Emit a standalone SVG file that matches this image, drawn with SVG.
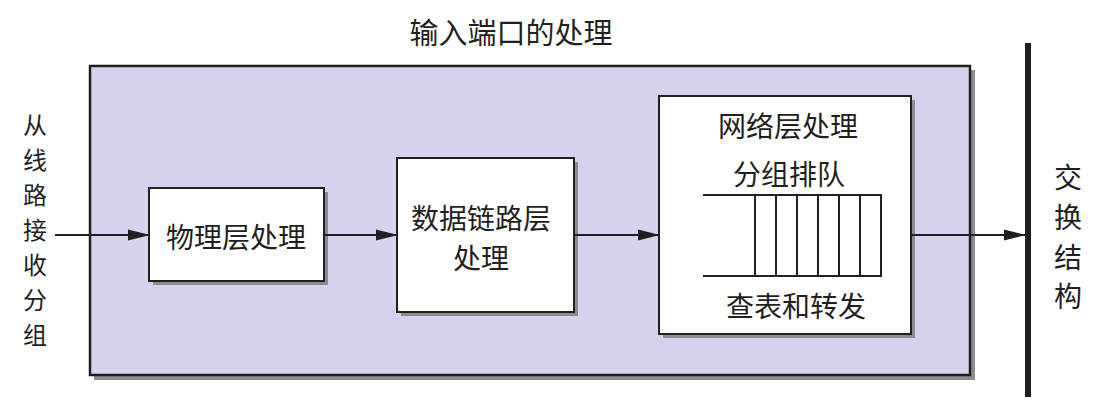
<svg xmlns="http://www.w3.org/2000/svg" width="1108" height="413" viewBox="0 0 1108 413">
<defs>
<style>
.t{font-family:"Noto Sans CJK SC","Noto Sans",sans-serif;font-size:28px;fill:#231f20;text-anchor:middle}
.s{font-size:24px}
.sh{fill:#8c8c8c}
.box{fill:#fff;stroke:#231f20;stroke-width:2}
.ln{stroke:#231f20;stroke-width:2;fill:none}
</style>
<marker id="ah" markerWidth="22" markerHeight="12" refX="21" refY="6" orient="auto" markerUnits="userSpaceOnUse">
<path d="M0,0.5 L22,6 L0,11.5 Z" fill="#231f20"/>
</marker>
</defs>
<rect width="1108" height="413" fill="#fff"/>
<text class="t" x="511" y="44" style="font-size:29px">输入端口的处理</text>
<g id="outer">
<rect class="sh" x="94" y="70" width="881" height="310"/>
<rect x="90" y="66" width="880" height="309" fill="#d6d2ee" stroke="#231f20" stroke-width="2.5"/>
</g>
<g id="input-label">
<text class="t s" x="35" y="134">从</text>
<text class="t s" x="35" y="169">线</text>
<text class="t s" x="35" y="204">路</text>
<text class="t s" x="35" y="239">接</text>
<text class="t s" x="35" y="274">收</text>
<text class="t s" x="35" y="309">分</text>
<text class="t s" x="35" y="344">组</text>
</g>
<g id="physical">
<rect class="sh" x="153" y="192" width="175" height="93"/>
<rect class="box" x="149" y="188" width="175" height="93"/>
<text class="t" x="236" y="248">物理层处理</text>
</g>
<g id="datalink">
<rect class="sh" x="401" y="162" width="177" height="154"/>
<rect class="box" x="397" y="158" width="177" height="154"/>
<text class="t" x="481" y="229">数据链路层</text>
<text class="t" x="481" y="269">处理</text>
</g>
<g id="network">
<rect class="sh" x="663" y="100" width="252" height="238"/>
<rect class="box" x="659" y="96" width="252" height="238"/>
<text class="t" x="788" y="137">网络层处理</text>
<text class="t" x="789" y="185">分组排队</text>
<g class="ln">
<path d="M703,195 H881 V276 H703"/>
<path d="M755,195 V276 M776,195 V276 M797,195 V276 M818,195 V276 M839,195 V276 M860,195 V276"/>
</g>
<text class="t" x="796" y="317">查表和转发</text>
</g>
<g id="fabric">
<rect x="1025" y="43" width="6" height="354" fill="#231f20"/>
<text class="t" x="1068" y="188">交</text>
<text class="t" x="1068" y="228">换</text>
<text class="t" x="1068" y="268">结</text>
<text class="t" x="1068" y="307">构</text>
</g>
<g id="connectors" class="ln">
<line x1="55" y1="235" x2="149" y2="235" marker-end="url(#ah)"/>
<line x1="324" y1="235" x2="397" y2="235" marker-end="url(#ah)"/>
<line x1="574" y1="235" x2="659" y2="235" marker-end="url(#ah)"/>
<line x1="911" y1="235" x2="1025" y2="235" marker-end="url(#ah)"/>
</g>
</svg>
